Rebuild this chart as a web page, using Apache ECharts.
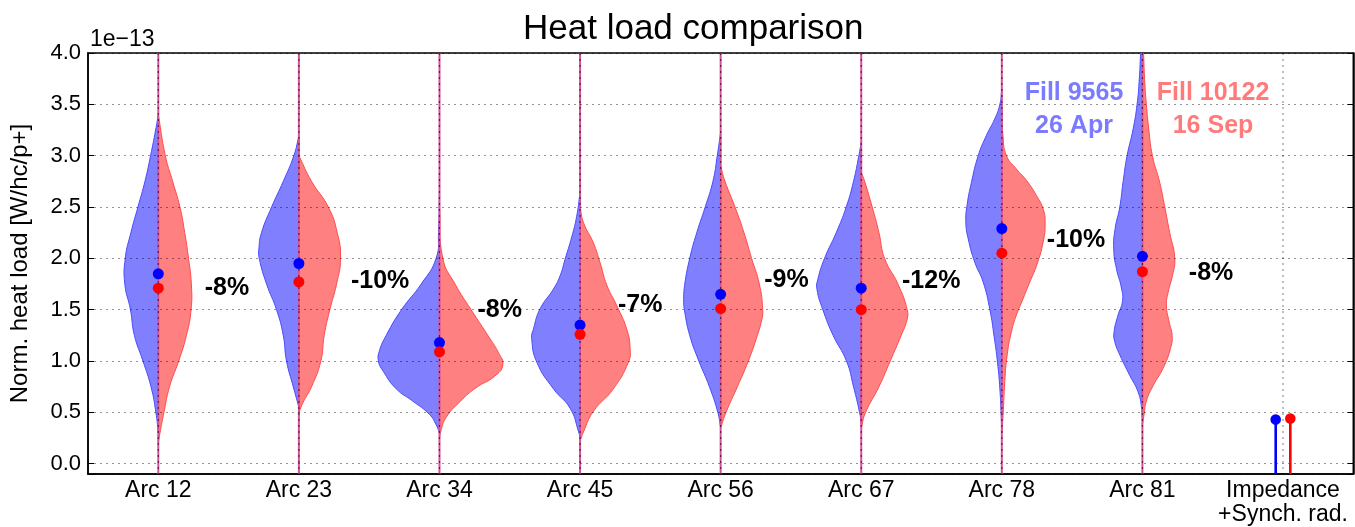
<!DOCTYPE html>
<html>
<head>
<meta charset="utf-8">
<script src="https://cdn.jsdelivr.net/npm/echarts@6/dist/echarts.min.js"></script>
<style>
  html, body { margin: 0; padding: 0; background: #fff; }
  #chart { width: 1355px; height: 527px; }
</style>
</head>
<body>
<div id="chart"></div>
<script>
// ---- data ----
const categories = ['Arc 12', 'Arc 23', 'Arc 34', 'Arc 45', 'Arc 56', 'Arc 67', 'Arc 78', 'Arc 81', 'Impedance\n+Synch. rad.'];
const fill9565Mean  = [1.85, 1.95, 1.18, 1.35, 1.65, 1.71, 2.29, 2.02];
const fill10122Mean = [1.71, 1.77, 1.09, 1.26, 1.51, 1.50, 2.05, 1.87];
const impedanceSynchRad = [0.43, 0.44];            // Fill 9565, Fill 10122
const pctChange = ['-8%', '-10%', '-8%', '-7%', '-9%', '-12%', '-10%', '-8%'];
const yTickValues = [0.0, 0.5, 1.0, 1.5, 2.0, 2.5, 3.0, 3.5, 4.0];

// Heat-load distributions per arc: [load (1e-13 W/hc/p+), half-width in % of the category slot]
const dist9565 = [
  [[3.40,0],[3.25,1.9],[3.0,5.5],[2.75,9.5],[2.5,14.5],[2.25,19.5],[2.0,23.5],[1.75,23.8],[1.5,19.8],[1.25,17.0],[1.0,10.9],[0.75,5.2],[0.5,1.7],[0.3,0]],
  [[3.19,0],[3.0,3.6],[2.75,11.1],[2.5,19.4],[2.25,26.6],[2.1,28.4],[2.0,28.2],[1.75,23.0],[1.5,15.9],[1.25,11.1],[1.0,8.8],[0.75,4.0],[0.55,0]],
  [[2.64,0],[2.25,0.7],[2.0,2.4],[1.75,13.0],[1.5,27.0],[1.25,37.9],[1.1,42.7],[1.0,43.4],[0.9,40.0],[0.73,30.8],[0.61,19.0],[0.48,7.1],[0.38,2.4],[0.3,0]],
  [[2.64,0],[2.41,2.4],[2.21,5.9],[1.99,10.7],[1.83,14.2],[1.7,19.0],[1.51,28.4],[1.31,33.2],[1.22,34.4],[0.99,30.8],[0.73,19.0],[0.54,7.1],[0.31,1.0],[0.25,0]],
  [[3.23,0],[3.0,2.4],[2.75,5.5],[2.5,11.0],[2.25,17.0],[2.0,22.0],[1.75,25.5],[1.6,26.3],[1.5,25.8],[1.25,22.0],[1.0,15.5],[0.75,8.0],[0.5,2.0],[0.35,0]],
  [[3.13,0],[3.0,1.7],[2.75,5.5],[2.5,10.7],[2.25,17.8],[2.0,26.1],[1.8,30.8],[1.7,31.5],[1.5,27.3],[1.25,20.0],[1.0,10.5],[0.75,5.5],[0.5,1.2],[0.4,0]],
  [[3.65,0],[3.5,1.4],[3.36,5.0],[3.2,10.9],[3.0,16.8],[2.74,21.6],[2.52,24.7],[2.35,25.6],[2.19,23.9],[1.96,19.2],[1.77,13.3],[1.5,8.5],[1.24,5.5],[0.99,3.1],[0.73,1.4],[0.48,0.5],[0.3,0]],
  [[4.1,1.2],[3.97,1.4],[3.71,2.4],[3.5,3.8],[3.26,6.6],[3.0,10.9],[2.74,13.8],[2.5,16.1],[2.29,19.4],[2.09,20.4],[1.9,18.5],[1.71,14.9],[1.58,14.2],[1.45,17.3],[1.28,20.2],[1.19,19.7],[1.06,16.1],[0.86,9.0],[0.7,3.1],[0.54,0.5],[0.45,0]]
];
const dist10122 = [
  [[3.40,0],[3.0,5.0],[2.75,10.2],[2.5,15.4],[2.25,18.8],[2.0,21.5],[1.75,23.5],[1.5,23.3],[1.25,20.0],[1.0,14.5],[0.75,8.0],[0.5,4.0],[0.3,1.2],[0.2,0]],
  [[3.0,0],[2.75,9.0],[2.5,20.9],[2.25,27.3],[2.0,29.6],[1.75,26.8],[1.5,22.0],[1.25,18.0],[1.0,15.6],[0.75,9.0],[0.6,3.1],[0.5,0]],
  [[2.5,0],[2.0,2.4],[1.75,11.1],[1.5,22.5],[1.25,34.4],[1.08,42.0],[0.96,45.0],[0.85,39.0],[0.74,26.0],[0.61,15.0],[0.45,4.7],[0.32,1.0],[0.25,0]],
  [[2.5,0],[2.35,2.4],[2.15,9.5],[1.96,14.2],[1.74,19.0],[1.54,26.1],[1.31,33.2],[1.12,35.6],[0.99,34.4],[0.73,23.7],[0.51,9.5],[0.31,2.4],[0.22,0]],
  [[2.9,0],[2.75,3.1],[2.5,10.2],[2.25,16.6],[2.0,22.0],[1.75,27.5],[1.5,29.9],[1.4,29.2],[1.25,26.1],[1.0,19.7],[0.75,11.9],[0.5,3.8],[0.35,0]],
  [[2.84,0],[2.75,2.4],[2.5,7.8],[2.25,12.6],[2.0,16.6],[1.75,26.1],[1.5,32.7],[1.4,32.5],[1.25,28.4],[1.0,20.6],[0.75,12.6],[0.5,3.1],[0.35,0]],
  [[3.45,0],[3.2,0.8],[3.0,3.3],[2.87,10.4],[2.76,17.5],[2.61,24.7],[2.48,29.4],[2.35,30.8],[2.16,29.4],[1.93,24.7],[1.77,19.9],[1.61,15.2],[1.45,10.4],[1.29,6.9],[1.06,3.8],[0.8,2.1],[0.47,0.9],[0.3,0]],
  [[4.1,0.8],[3.97,0.9],[3.71,1.7],[3.5,2.8],[3.26,4.5],[3.0,7.1],[2.74,12.3],[2.5,15.9],[2.25,19.4],[2.0,23.0],[1.83,21.3],[1.67,18.3],[1.54,17.1],[1.38,19.0],[1.25,21.1],[1.12,19.9],[0.93,14.7],[0.76,7.6],[0.61,2.8],[0.48,1.2],[0.38,0]]
];

// ---- styling / layout ----
const FONT = '"Liberation Sans", Arial, Helvetica, sans-serif';
const BLUE_FILL = '#8080ff', BLUE_EDGE = '#4a4aff', BLUE_DOT = '#0000ff';
const RED_FILL = '#ff8080', RED_EDGE = '#ff4a4a', RED_DOT = '#ff0000';
const Y_MIN = -0.1, Y_MAX = 4.0;
const GRID_DOT = 'rgba(0,0,0,0.42)';
// where each percentage note sits: [offset from the arc in slots, load value]
const pctLabelAt = [[0.33,1.71],[0.37,1.78],[0.27,1.50],[0.27,1.54],[0.31,1.79],[0.29,1.78],[0.32,2.18],[0.33,1.86]];

const chart = echarts.init(document.getElementById('chart'), null, { renderer: 'canvas' });

// one half of a split violin, closed along the arc's centre line
function halfViolin(api, idx, profile, side, fill, stroke) {
  const band = api.size([1, 0])[0];
  const first = profile[0][0], last = profile[profile.length - 1][0];
  const c0 = api.coord([idx, first]);
  const c1 = api.coord([idx, last]);
  const pts = [c0, c0.slice()];
  profile.forEach(([v, w]) => {
    if (w <= 0) return;
    const p = api.coord([idx, v]);
    pts.push([p[0] + side * w / 100 * band, p[1]]);
  });
  pts.push(c1, c1.slice());
  return {
    type: 'polygon',
    shape: { points: pts, smooth: 0.5 },
    style: { fill: fill, stroke: stroke, lineWidth: 1 }
  };
}

function renderViolin(params, api) {
  const i = params.dataIndex;
  const top = api.coord([i, Y_MAX]);
  const bot = api.coord([i, Y_MIN]);
  return {
    type: 'group',
    children: [
      halfViolin(api, i, dist9565[i], -1, BLUE_FILL, BLUE_EDGE),
      halfViolin(api, i, dist10122[i], 1, RED_FILL, RED_EDGE),
      { type: 'line', shape: { x1: top[0], y1: top[1], x2: bot[0], y2: bot[1] },
        style: { stroke: '#d8509a', lineWidth: 2 } }
    ]
  };
}

function renderVGrid(params, api) {
  const i = params.dataIndex;
  const top = api.coord([i, Y_MAX]);
  const bot = api.coord([i, Y_MIN]);
  return { type: 'line', shape: { x1: top[0], y1: top[1], x2: bot[0], y2: bot[1] },
    style: { stroke: i < 8 ? 'rgba(0,0,0,0.6)' : GRID_DOT, lineWidth: 1.2, lineDash: [2, 4] } };
}

function renderStem(params, api) {
  const band = api.size([1, 0])[0];
  const i = params.dataIndex;
  const off = (i === 0 ? -0.052 : 0.052) * band;
  const col = i === 0 ? BLUE_DOT : RED_DOT;
  const p = api.coord([api.value(0), api.value(1)]);
  const b = api.coord([api.value(0), Y_MIN]);
  return {
    type: 'group',
    children: [
      { type: 'line', shape: { x1: p[0] + off, y1: p[1], x2: b[0] + off, y2: b[1] },
        style: { stroke: col, lineWidth: 2.6 } },
      { type: 'circle', shape: { cx: p[0] + off, cy: p[1], r: 5.3 }, style: { fill: col } }
    ]
  };
}

function renderPct(params, api) {
  const i = params.dataIndex;
  const band = api.size([1, 0])[0];
  const p = api.coord([i, pctLabelAt[i][1]]);
  return {
    type: 'text', x: p[0] + pctLabelAt[i][0] * band, y: p[1],
    style: { text: pctChange[i], fill: '#000', font: 'bold 25px ' + FONT,
             textAlign: 'left', textVerticalAlign: 'middle' }
  };
}

const arcIdx = fill9565Mean.map((v, i) => i);

const option = {
  animation: false,
  backgroundColor: '#fff',
  title: {
    text: 'Heat load comparison',
    left: 518, top: 7,
    textStyle: { fontSize: 35, fontWeight: 'normal', color: '#000', fontFamily: FONT }
  },
  grid: { left: 88, right: 1.7, top: 53, bottom: 51.3, show: true, borderColor: '#000', borderWidth: 1.5, containLabel: false },
  xAxis: {
    type: 'category',
    data: categories,
    boundaryGap: true,
    axisLine: { onZero: false, lineStyle: { color: '#000', width: 1.5 } },
    axisTick: { show: false },
    splitLine: { show: false },
    axisLabel: { color: '#000', fontSize: 23, fontFamily: FONT, margin: 5, lineHeight: 24, interval: 0 }
  },
  yAxis: [{
    type: 'value', min: Y_MIN, max: Y_MAX, splitNumber: 8, z: 3,
    name: 'Norm. heat load [W/hc/p+]', nameLocation: 'middle', nameGap: 56,
    nameTextStyle: { fontSize: 24, color: '#000', fontFamily: FONT },
    axisLine: { show: true, lineStyle: { color: '#000', width: 1.5 } },
    axisTick: { show: true, inside: true, length: 6, lineStyle: { color: '#000' } },
    axisLabel: { color: '#000', fontSize: 22, fontFamily: FONT, margin: 7,
      formatter: v => (yTickValues.some(t => Math.abs(t - v) < 1e-6) ? v.toFixed(1) : '') },
    splitLine: { show: true, lineStyle: { color: GRID_DOT, width: 1.2, type: [2, 4] } }
  }, {
    type: 'value', min: Y_MIN, max: Y_MAX, splitNumber: 8, position: 'right', z: 3,
    axisLine: { show: true, lineStyle: { color: '#000', width: 1.5 } },
    axisTick: { show: true, inside: true, length: 6, lineStyle: { color: '#000' } },
    axisLabel: { show: false },
    splitLine: { show: false }
  }],
  graphic: [
    { type: 'text', x: 90, y: 40, style: { text: '1e\u221213', fill: '#000', font: '23px ' + FONT, textVerticalAlign: 'middle' } },
    { type: 'text', x: 1074, y: 93, style: { text: 'Fill 9565', fill: '#7b7bff', font: 'bold 25px ' + FONT, textAlign: 'center', textVerticalAlign: 'middle' } },
    { type: 'text', x: 1074, y: 126, style: { text: '26 Apr', fill: '#7b7bff', font: 'bold 25px ' + FONT, textAlign: 'center', textVerticalAlign: 'middle' } },
    { type: 'text', x: 1213, y: 93, style: { text: 'Fill 10122', fill: '#ff7b7b', font: 'bold 25px ' + FONT, textAlign: 'center', textVerticalAlign: 'middle' } },
    { type: 'text', x: 1213, y: 126, style: { text: '16 Sep', fill: '#ff7b7b', font: 'bold 25px ' + FONT, textAlign: 'center', textVerticalAlign: 'middle' } }
  ],
  series: [
    { name: 'violins', type: 'custom', z: 2, clip: true, renderItem: renderViolin,
      data: arcIdx.map(i => [i, fill9565Mean[i]]), encode: { x: 0, y: 1 } },
    { name: 'grid-x', type: 'custom', z: 3, clip: true, renderItem: renderVGrid, silent: true,
      data: categories.map((c, i) => [i, 0]), encode: { x: 0, y: 1 } },
    { name: 'Fill 9565', type: 'scatter', z: 5, symbolSize: 11,
      itemStyle: { color: BLUE_DOT, opacity: 1 },
      data: fill9565Mean.map((v, i) => [i, v]) },
    { name: 'Fill 10122', type: 'scatter', z: 6, symbolSize: 11,
      itemStyle: { color: RED_DOT, opacity: 1 },
      data: fill10122Mean.map((v, i) => [i, v]) },
    { name: 'Impedance + synchrotron radiation', type: 'custom', z: 5, renderItem: renderStem,
      data: impedanceSynchRad.map(v => [8, v]), encode: { x: 0, y: 1 } },
    { name: 'change', type: 'custom', z: 7, renderItem: renderPct,
      data: arcIdx.map(i => [i, pctLabelAt[i][1]]), encode: { x: 0, y: 1 } }
  ]
};

chart.setOption(option);
</script>
</body>
</html>
